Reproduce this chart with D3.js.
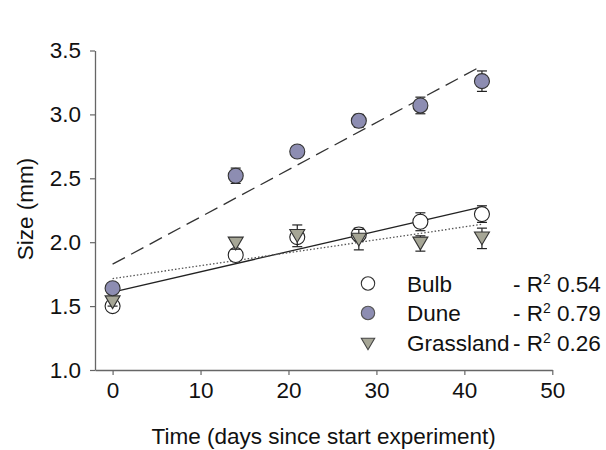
<!DOCTYPE html>
<html>
<head>
<meta charset="utf-8">
<script src="https://cdn.jsdelivr.net/npm/d3@7"></script>
<style>
  html, body { margin: 0; padding: 0; background: #ffffff; }
  svg { display: block; font-family: "Liberation Sans", Arial, sans-serif; }
</style>
</head>
<body>
<script>
// ---- data ----
const days = [0, 14, 21, 28, 35, 42];
const series = ["Bulb", "Dune", "Grassland"];
const bulb = [1.50, 1.90, 2.04, 2.06, 2.16, 2.22];
const bulbErr = [0.02, 0.03, 0.04, 0.05, 0.07, 0.065];
const dune = [1.64, 2.52, 2.71, 2.95, 3.07, 3.26];
const duneErr = [0.02, 0.06, 0.03, 0.05, 0.065, 0.08];
const grass = [1.53, 1.99, 2.05, 2.02, 1.99, 2.03];
const grassErr = [0.03, 0.045, 0.085, 0.08, 0.06, 0.08];
// regression lines: value at first and last day
const fitDays = [0, 42];
const bulbFit = [1.61, 2.276];
const duneFit = [1.828, 3.38];
const grassFit = [1.715, 2.14];
const r2 = ["0.54", "0.79", "0.26"];
const xTicks = [0, 10, 20, 30, 40, 50];
const yTicks = [1.0, 1.5, 2.0, 2.5, 3.0, 3.5];

const W = 606, H = 450;
const svg = d3.select("body").append("svg").attr("width", W).attr("height", H);
svg.append("rect").attr("width", W).attr("height", H).attr("fill", "#ffffff");

const x = d3.scaleLinear().domain([-2, 50]).range([95, 552.3]);
const y = d3.scaleLinear().domain([1.0, 3.5]).range([370, 50.5]);

const axisColor = "#666";
const fontSize = 22.5;

// axes
const xAxis = svg.append("g").attr("transform", `translate(0,${y(1.0)})`)
  .call(d3.axisBottom(x).tickValues(xTicks).tickSize(5).tickSizeOuter(0).tickPadding(7).tickFormat(d3.format("d")));
const yAxis = svg.append("g").attr("transform", `translate(${x(-2)},0)`)
  .call(d3.axisLeft(y).tickValues(yTicks).tickSize(5).tickSizeOuter(0).tickPadding(9).tickFormat(d3.format(".1f")));
[xAxis, yAxis].forEach(g => {
  g.select(".domain").attr("stroke", axisColor).attr("stroke-width", 1.3);
  g.selectAll(".tick line").attr("stroke", axisColor).attr("stroke-width", 1.2);
  g.selectAll(".tick text").attr("fill", "#111").attr("font-size", fontSize)
    .attr("font-family", "Liberation Sans, Arial, sans-serif");
});

// axis titles
svg.append("text").attr("x", (x(-2) + x(50)) / 2) .attr("y", 444)
  .attr("text-anchor", "middle").attr("font-size", fontSize).attr("fill", "#111")
  .text("Time (days since start experiment)");
svg.append("text").attr("transform", `translate(33,209) rotate(-90)`)
  .attr("text-anchor", "middle").attr("font-size", fontSize).attr("fill", "#111")
  .text("Size (mm)");

// regression lines
const fitLine = d3.line().x(d => x(d[0])).y(d => y(d[1]));
const fits = [
  { v: duneFit, dash: "14,7", color: "#333", w: 1.3 },
  { v: bulbFit, dash: null, color: "#222", w: 1.3 },
  { v: grassFit, dash: "1.5,2", color: "#555", w: 1.3 }
];
fits.forEach(f => {
  svg.append("path").datum(fitDays.map((d, i) => [d, f.v[i]]))
    .attr("d", fitLine).attr("fill", "none").attr("stroke", f.color)
    .attr("stroke-width", f.w).attr("stroke-dasharray", f.dash);
});

const duneColor = "#8d8db2";
const grassColor = "#a6a696";
const triPath = (s) => `M${-s},${-s * 0.85}L${s},${-s * 0.85}L0,${s * 0.85}Z`;

function drawErr(vals, errs) {
  const g = svg.append("g").attr("stroke", "#222").attr("stroke-width", 1.2);
  days.forEach((d, i) => {
    const cx = x(d), y1 = y(vals[i] + errs[i]), y2 = y(vals[i] - errs[i]);
    g.append("line").attr("x1", cx).attr("x2", cx).attr("y1", y1).attr("y2", y2);
    g.append("line").attr("x1", cx - 5).attr("x2", cx + 5).attr("y1", y1).attr("y2", y1);
    g.append("line").attr("x1", cx - 5).attr("x2", cx + 5).attr("y1", y2).attr("y2", y2);
  });
}

// Bulb
drawErr(bulb, bulbErr);
svg.append("g").selectAll("circle").data(days).join("circle")
  .attr("cx", d => x(d)).attr("cy", (d, i) => y(bulb[i])).attr("r", 7.5)
  .attr("fill", "#ffffff").attr("stroke", "#222").attr("stroke-width", 1.1);

// Grassland
drawErr(grass, grassErr);
svg.append("g").selectAll("path").data(days).join("path")
  .attr("transform", (d, i) => `translate(${x(d)},${y(grass[i])})`)
  .attr("d", triPath(7.5))
  .attr("fill", grassColor).attr("stroke", "#333").attr("stroke-width", 1.1);

// Dune
drawErr(dune, duneErr);
svg.append("g").selectAll("circle").data(days).join("circle")
  .attr("cx", d => x(d)).attr("cy", (d, i) => y(dune[i])).attr("r", 7.5)
  .attr("fill", duneColor).attr("stroke", "#333").attr("stroke-width", 1.1);

// legend
const legY = [283.5, 313, 343];
const leg = svg.append("g");
series.forEach((s, i) => {
  const cy = legY[i];
  if (i === 0) leg.append("circle").attr("cx", 368).attr("cy", cy).attr("r", 6.7)
    .attr("fill", "#fff").attr("stroke", "#333").attr("stroke-width", 1.1);
  if (i === 1) leg.append("circle").attr("cx", 368).attr("cy", cy).attr("r", 6.7)
    .attr("fill", duneColor).attr("stroke", "#555").attr("stroke-width", 1.1);
  if (i === 2) leg.append("path").attr("transform", `translate(368,${cy + 1})`).attr("d", triPath(6.7))
    .attr("fill", grassColor).attr("stroke", "#444").attr("stroke-width", 1.1);
  leg.append("text").attr("x", 407).attr("y", cy + 8).attr("font-size", fontSize).attr("fill", "#111").text(s);
  const t = leg.append("text").attr("x", 513).attr("y", cy + 8).attr("font-size", fontSize).attr("fill", "#111");
  t.append("tspan").text("- R");
  t.append("tspan").attr("font-size", 14).attr("dy", -8).text("2");
  t.append("tspan").attr("dy", 8).text("\u00a0" + r2[i]);
});
</script>
</body>
</html>
